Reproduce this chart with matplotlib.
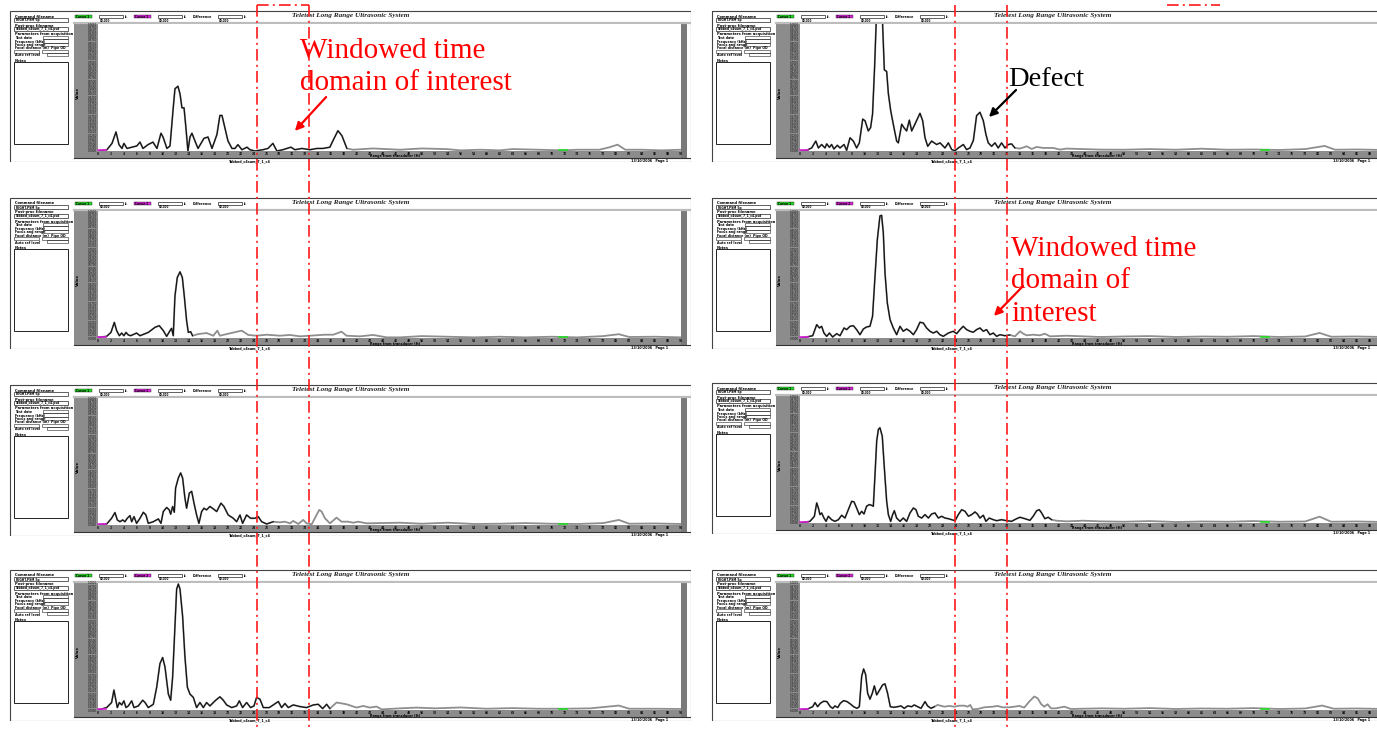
import numpy as np
import matplotlib.pyplot as plt
from matplotlib.patches import Rectangle

W, H = 1377, 731

# A-scans: distance along the pipe (tick units) and normalised amplitude
l1_x = [0.08, 0.69, 1.08, 1.39, 1.62, 1.85, 2.0, 2.24, 2.62, 3.0, 3.24, 3.47, 3.86, 4.24, 4.55, 4.86, 5.02,
        5.32, 5.56, 5.79, 5.94, 6.17, 6.33, 6.48, 6.64, 6.79, 6.94, 7.1, 7.25, 7.48, 7.72, 8.18, 8.49, 8.8,
        9.18, 9.41, 9.57, 9.8, 10.03, 10.34, 10.57, 10.8, 11.11, 11.5, 11.73, 12.11, 12.73, 13.12, 13.5,
        13.81, 14.27, 14.89, 15.2, 15.74, 16.36, 16.9, 17.36, 17.9, 18.13, 18.52, 18.83, 19.21, 19.68,
        21.22, 23.3, 25.0, 26.9, 28.0, 29.5, 31.0, 32.0, 34.0, 35.9, 37.0, 38.7, 39.5, 40.1, 40.7, 42.0,
        43.5, 45.0]
l1_y = [0.0, 0.01, 0.06, 0.15, 0.05, 0.02, 0.06, 0.02, 0.03, 0.04, 0.07, 0.02, 0.05, 0.07, 0.02, 0.14, 0.11,
        0.02, 0.04, 0.32, 0.49, 0.51, 0.45, 0.34, 0.34, 0.18, 0.0, 0.11, 0.14, 0.08, 0.02, 0.10, 0.11, 0.02,
        0.13, 0.28, 0.28, 0.18, 0.08, 0.02, 0.02, 0.05, 0.01, 0.03, 0.01, 0.0, 0.01, 0.02, 0.06,
        0.0, 0.01, 0.03, 0.01, 0.02, 0.01, 0.02, 0.02, 0.03, 0.08, 0.16, 0.12, 0.02, 0.01,
        0.02, 0.01, 0.02, 0.015, 0.005, 0.01, 0.005, 0.015, 0.01, 0.005, 0.01, 0.01, 0.03, 0.05, 0.01, 0.01,
        0.005, 0.01]

l2_x = [0.03, 0.67, 1.0, 1.26, 1.44, 1.65, 1.83, 2.0, 2.16, 2.34, 2.52, 2.98, 3.24, 3.88, 4.4, 4.73, 5.04,
        5.3, 5.56, 5.68, 5.81, 5.94, 6.12, 6.33, 6.51, 6.66, 6.84, 6.97, 7.15, 7.3, 7.74, 8.38, 8.9, 9.21,
        9.41, 10.19, 11.09, 11.6, 12.24, 13.02, 14.04, 14.81, 15.59, 16.36, 17.52, 18.16, 18.8, 19.18,
        20.22, 21.24, 22.28, 23.3, 25.0, 27.0, 29.0, 31.0, 33.0, 35.0, 37.0, 39.0, 40.2, 41.0, 43.0, 45.0]
l2_y = [0.005, 0.013, 0.044, 0.123, 0.058, 0.018, 0.039, 0.018, 0.044, 0.024, 0.018, 0.039, 0.018, 0.044,
        0.084, 0.097, 0.058, 0.013, 0.058, 0.076, 0.018, 0.33, 0.476, 0.521, 0.476, 0.33, 0.136, 0.044,
        0.05, 0.018, 0.031, 0.039, 0.018, 0.058, 0.018, 0.037, 0.058, 0.024, 0.018, 0.026, 0.018, 0.024,
        0.013, 0.018, 0.026, 0.026, 0.05, 0.018, 0.013, 0.024, 0.005, 0.005, 0.015, 0.01, 0.005, 0.01,
        0.005, 0.01, 0.005, 0.015, 0.03, 0.008, 0.01, 0.005]

l3_x = [0.03, 0.67, 1.05, 1.31, 1.49, 1.7, 1.9, 2.08, 2.26, 2.47, 2.6, 2.78, 2.98, 3.24, 3.5, 3.7, 3.88,
        4.27, 4.66, 4.86, 5.04, 5.3, 5.5, 5.61, 5.76, 5.89, 5.99, 6.2, 6.38, 6.53, 6.71, 6.84, 7.05, 7.23,
        7.41, 7.61, 7.79, 8.0, 8.18, 8.38, 8.64, 8.9, 9.16, 9.49, 9.72, 10.05, 10.44, 10.7, 10.96, 11.16,
        11.47, 11.78, 12.12, 12.37, 12.63, 13.02, 13.53, 14.04, 14.43, 14.81, 15.07, 15.46, 15.84, 16.1,
        16.49, 16.87, 17.08, 17.26, 17.52, 17.9, 18.41, 18.8, 19.31, 19.7, 20.09, 20.73, 23.3, 25.0, 27.0,
        29.0, 31.0, 33.0, 35.0, 37.0, 39.0, 40.2, 41.0, 43.0, 45.0]
l3_y = [0.0, 0.008, 0.053, 0.098, 0.04, 0.026, 0.04, 0.026, 0.053, 0.074, 0.026, 0.066, 0.013, 0.053, 0.1,
        0.079, 0.013, 0.026, 0.048, 0.013, 0.106, 0.138, 0.119, 0.085, 0.146, 0.1, 0.291, 0.37, 0.41,
        0.37, 0.212, 0.132, 0.251, 0.265, 0.172, 0.079, 0.013, 0.106, 0.132, 0.119, 0.146, 0.127, 0.106,
        0.172, 0.146, 0.079, 0.053, 0.026, 0.079, 0.013, 0.079, 0.053, 0.053, 0.066, 0.026, 0.008, 0.026,
        0.021, 0.026, 0.013, 0.032, 0.008, 0.04, 0.013, 0.005, 0.079, 0.119, 0.106, 0.053, 0.013, 0.058,
        0.026, 0.026, 0.018, 0.026, 0.013, 0.018, 0.01, 0.018, 0.008, 0.01, 0.015, 0.01, 0.008, 0.015,
        0.04, 0.01, 0.012, 0.008]

l4_x = [0.0, 0.67, 1.05, 1.23, 1.39, 1.49, 1.65, 1.83, 2.0, 2.16, 2.34, 2.6, 2.78, 3.11, 3.45, 3.63, 3.88,
        4.27, 4.53, 4.78, 4.99, 5.17, 5.43, 5.61, 5.76, 5.94, 6.07, 6.2, 6.33, 6.53, 6.71, 6.9, 7.1, 7.36,
        7.61, 7.87, 8.13, 8.38, 8.64, 9.03, 9.41, 9.67, 9.93, 10.32, 10.7, 10.91, 11.16, 11.47, 11.78,
        12.04, 12.24, 12.5, 12.76, 13.22, 13.53, 13.92, 14.17, 14.43, 14.69, 15.07, 15.59, 16.1, 16.62,
        17.0, 17.34, 17.65, 17.9, 18.41, 19.19, 19.96, 20.47, 20.99, 21.5, 21.89, 23.3, 24.59, 26.0, 28.0,
        30.0, 32.0, 34.0, 36.0, 38.0, 40.2, 41.0, 43.0, 45.0]
l4_y = [0.0, 0.019, 0.059, 0.157, 0.072, 0.019, 0.059, 0.04, 0.072, 0.019, 0.032, 0.072, 0.019, 0.032,
        0.077, 0.059, 0.019, 0.045, 0.179, 0.365, 0.413, 0.339, 0.125, 0.077, 0.259, 0.659, 0.952, 0.992,
        0.952, 0.739, 0.419, 0.179, 0.125, 0.099, 0.019, 0.059, 0.019, 0.059, 0.032, 0.072, 0.104, 0.077,
        0.04, 0.019, 0.032, 0.072, 0.019, 0.059, 0.019, 0.032, 0.099, 0.085, 0.019, 0.019, 0.04, 0.067,
        0.019, 0.051, 0.019, 0.04, 0.027, 0.019, 0.04, 0.045, 0.011, 0.045, 0.011, 0.059, 0.045, 0.019,
        0.032, 0.019, 0.027, 0.005, 0.013, 0.019, 0.013, 0.02, 0.01, 0.015, 0.01, 0.01, 0.013, 0.035,
        0.01, 0.01, 0.008]

r1_x = [0.0, 0.5, 0.9, 1.22, 1.42, 1.67, 1.93, 2.06, 2.27, 2.44, 2.62, 2.88, 3.09, 3.4, 3.6, 3.86, 4.12,
        4.37, 4.58, 4.84, 5.02, 5.27, 5.45, 5.6, 5.76, 5.89, 5.97, 6.3, 6.38, 6.51, 6.69, 6.82, 7.0, 7.2,
        7.46, 7.59, 7.85, 8.02, 8.23, 8.44, 8.62, 8.87, 9.26, 9.47, 9.65, 9.86, 10.16, 10.55, 10.81,
        11.19, 11.45, 11.71, 11.97, 12.22, 12.61, 12.86, 13.12, 13.38, 13.63, 13.89, 14.15, 14.35, 14.53,
        14.79, 15.05, 15.3, 15.56, 15.82, 16.08, 16.33, 16.59, 16.98, 17.5, 17.88, 18.27, 18.78, 19.55,
        20.07, 20.58, 23.15, 25.0, 27.0, 29.0, 31.0, 33.0, 35.0, 37.0, 39.0, 40.5, 41.3, 43.0, 45.0]
r1_y = [0.0, 0.005, 0.024, 0.078, 0.024, 0.051, 0.024, 0.056, 0.029, 0.051, 0.016, 0.045, 0.024, 0.051,
        0.005, 0.104, 0.078, 0.024, 0.064, 0.251, 0.238, 0.158, 0.184, 0.291, 0.666, 1.04, 1.3, 1.3,
        0.987, 0.639, 0.626, 0.452, 0.318, 0.211, 0.078, 0.064, 0.211, 0.184, 0.158, 0.243, 0.158, 0.211,
        0.297, 0.238, 0.104, 0.037, 0.078, 0.051, 0.064, 0.024, 0.064, 0.011, 0.003, 0.024, 0.051, 0.011,
        0.024, 0.083, 0.278, 0.305, 0.238, 0.131, 0.064, 0.037, 0.064, 0.024, 0.064, 0.024, 0.051, 0.056,
        0.024, 0.019, 0.037, 0.016, 0.032, 0.024, 0.024, 0.011, 0.019, 0.011, 0.01, 0.015, 0.01, 0.018,
        0.01, 0.012, 0.008, 0.015, 0.04, 0.01, 0.012, 0.008]

r2_x = [0.0, 0.5, 0.98, 1.29, 1.5, 1.67, 1.85, 2.06, 2.27, 2.52, 2.83, 3.09, 3.4, 3.6, 3.86, 4.12, 4.37,
        4.63, 4.89, 5.14, 5.4, 5.6, 5.79, 5.97, 6.17, 6.3, 6.43, 6.56, 6.74, 6.95, 7.2, 7.46, 7.72, 7.97,
        8.23, 8.49, 8.75, 9.0, 9.26, 9.52, 9.77, 10.03, 10.29, 10.55, 10.8, 11.06, 11.45, 11.83, 12.09,
        12.35, 12.6, 12.86, 13.12, 13.37, 13.63, 13.89, 14.15, 14.4, 14.66, 14.92, 15.18, 15.43, 15.82,
        16.2, 16.59, 16.98, 17.23, 17.49, 18.0, 18.52, 18.9, 19.29, 20.58, 21.86, 23.15, 25.0, 27.0, 29.0,
        31.0, 33.0, 35.0, 37.0, 39.0, 40.1, 41.0, 43.0, 45.0]
r2_y = [0.0, 0.008, 0.018, 0.105, 0.079, 0.092, 0.039, 0.013, 0.039, 0.008, 0.034, 0.018, 0.079, 0.066,
        0.092, 0.097, 0.066, 0.026, 0.071, 0.087, 0.092, 0.171, 0.487, 0.776, 0.961, 0.966, 0.829, 0.513,
        0.276, 0.145, 0.079, 0.026, 0.092, 0.053, 0.071, 0.053, 0.026, 0.066, 0.124, 0.118, 0.079, 0.053,
        0.039, 0.053, 0.026, 0.013, 0.039, 0.053, 0.034, 0.066, 0.092, 0.066, 0.053, 0.045, 0.066, 0.079,
        0.053, 0.066, 0.026, 0.039, 0.013, 0.026, 0.018, 0.024, 0.013, 0.053, 0.034, 0.021, 0.026, 0.021,
        0.034, 0.013, 0.018, 0.013, 0.008, 0.012, 0.015, 0.008, 0.012, 0.01, 0.015, 0.008, 0.012, 0.04,
        0.01, 0.012, 0.008]

r3_x = [0.0, 0.77, 1.11, 1.29, 1.42, 1.54, 1.67, 1.85, 2.01, 2.19, 2.44, 2.7, 2.96, 3.22, 3.47, 3.73, 3.99,
        4.17, 4.37, 4.58, 4.76, 4.94, 5.14, 5.35, 5.53, 5.66, 5.79, 5.92, 6.05, 6.17, 6.35, 6.51, 6.69,
        6.82, 7.0, 7.15, 7.28, 7.46, 7.72, 7.97, 8.23, 8.49, 8.75, 8.95, 9.13, 9.39, 9.65, 9.91, 10.16,
        10.42, 10.68, 10.93, 11.19, 11.45, 11.71, 11.97, 12.22, 12.48, 12.74, 13.0, 13.25, 13.51, 13.69,
        13.89, 14.15, 14.35, 14.61, 14.92, 15.18, 15.56, 15.95, 16.33, 16.72, 16.98, 17.36, 17.75, 18.0,
        18.27, 18.47, 18.65, 18.9, 19.16, 19.42, 19.8, 20.58, 21.86, 23.15, 25.0, 27.0, 29.0, 31.0, 33.0,
        35.0, 37.0, 39.0, 40.1, 41.0, 43.0, 45.0]
r3_y = [0.0, 0.013, 0.053, 0.158, 0.118, 0.066, 0.079, 0.039, 0.013, 0.053, 0.026, 0.013, 0.026, 0.061,
        0.039, 0.105, 0.171, 0.166, 0.118, 0.066, 0.092, 0.071, 0.132, 0.145, 0.139, 0.132, 0.382, 0.645,
        0.737, 0.75, 0.684, 0.434, 0.171, 0.066, 0.013, 0.066, 0.097, 0.039, 0.013, 0.039, 0.013, 0.079,
        0.118, 0.105, 0.053, 0.039, 0.066, 0.039, 0.071, 0.079, 0.039, 0.053, 0.039, 0.034, 0.026, 0.018,
        0.066, 0.105, 0.092, 0.053, 0.066, 0.087, 0.071, 0.039, 0.061, 0.013, 0.039, 0.026, 0.018, 0.026,
        0.018, 0.013, 0.034, 0.045, 0.034, 0.021, 0.053, 0.097, 0.105, 0.079, 0.034, 0.045, 0.026, 0.018,
        0.013, 0.018, 0.013, 0.01, 0.015, 0.008, 0.012, 0.01, 0.015, 0.01, 0.012, 0.05, 0.01, 0.012, 0.008]

r4_x = [0.0, 0.59, 0.98, 1.16, 1.36, 1.57, 1.83, 2.08, 2.34, 2.52, 2.7, 2.91, 3.11, 3.37, 3.63, 3.88, 4.14,
        4.4, 4.58, 4.76, 4.91, 5.07, 5.22, 5.4, 5.58, 5.74, 5.92, 6.12, 6.38, 6.56, 6.76, 6.97, 7.23, 7.54,
        7.79, 8.05, 8.31, 8.62, 8.82, 9.08, 9.34, 9.65, 9.85, 10.11, 10.37, 10.62, 11.14, 11.52, 11.91,
        12.3, 12.68, 12.94, 13.14, 13.32, 13.71, 14.22, 14.86, 15.25, 15.64, 16.15, 16.53, 16.92, 17.31,
        17.69, 18.08, 18.34, 18.6, 18.85, 19.11, 19.37, 19.75, 20.4, 20.91, 23.22, 25.0, 27.0, 29.0, 31.0,
        33.0, 35.0, 37.0, 39.0, 40.3, 41.2, 43.0, 45.0]
r4_y = [0.0, 0.008, 0.026, 0.058, 0.026, 0.053, 0.069, 0.066, 0.026, 0.013, 0.032, 0.019, 0.053, 0.074,
        0.066, 0.048, 0.026, 0.013, 0.026, 0.265, 0.323, 0.278, 0.132, 0.085, 0.132, 0.19, 0.119, 0.153,
        0.198, 0.206, 0.132, 0.026, 0.021, 0.026, 0.032, 0.013, 0.032, 0.026, 0.04, 0.026, 0.013, 0.066,
        0.032, 0.013, 0.026, 0.04, 0.026, 0.032, 0.026, 0.034, 0.034, 0.026, 0.04, 0.005, 0.008, 0.021,
        0.026, 0.032, 0.021, 0.021, 0.026, 0.032, 0.019, 0.066, 0.106, 0.093, 0.048, 0.026, 0.045, 0.013,
        0.013, 0.026, 0.008, 0.013, 0.01, 0.015, 0.008, 0.012, 0.01, 0.015, 0.008, 0.012, 0.035, 0.01,
        0.012, 0.008]

scans = [(l1_x, l1_y), (l2_x, l2_y), (l3_x, l3_y), (l4_x, l4_y),
         (r1_x, r1_y), (r2_x, r2_y), (r3_x, r3_y), (r4_x, r4_y)]
# the dark (near-field) trace stops at these distances, grey trace afterwards
black_until = [19.5, 7.4, 14.0, 18.0, 16.7, 16.3, 19.5, 10.5]

y_ticks = np.linspace(0, 1, 41)
x_ticks = np.arange(0, 46)

left_frames = [(9, 10), (9, 197), (9, 384), (9, 569)]
right_frames = [(711, 10), (711, 197), (711, 382), (711, 569)]

GREY = '#8c8c8c'


def px_axes(fig, x, y, w, h, z=1):
    ax = fig.add_axes([x / W, 1 - (y + h) / H, w / W, h / H])
    ax.set_zorder(z)
    return ax


def tiny(ax, x, y, s, size=2.6, **kw):
    ax.text(x, y, s, fontsize=size, va='top', ha=kw.pop('ha', 'left'),
            fontweight=kw.pop('fontweight', 'bold'), **kw)


def draw_panel(fig, fx, fy, xs, ys, bend):
    deco = px_axes(fig, fx, fy, 682, 152, 1)
    deco.set_xlim(0, 682)
    deco.set_ylim(152, 0)
    deco.axis('off')
    deco.add_patch(Rectangle((0.5, 0.5), 681, 151, fill=False, ec='#444444', lw=0.8))

    # left info column
    tiny(deco, 6, 4.5, 'Command filename')
    deco.add_patch(Rectangle((5, 8), 54, 4, fill=False, ec='#222', lw=0.5))
    tiny(deco, 7, 8.5, 'RIGHT.PSM 5p', size=2.2)
    tiny(deco, 6, 13.5, 'Post-proc filename')
    deco.add_patch(Rectangle((5, 16.5), 54, 4, fill=False, ec='#222', lw=0.5))
    tiny(deco, 7, 17, 'Tabbed_c4sum_7_1_c4.psd', size=2.2)
    tiny(deco, 6, 22.5, 'Parameters from acquisition')
    for k, lab in enumerate(['Test date', 'Frequency (kHz)', 'Focus ang range']):
        tiny(deco, 6, 26 + 3.6 * k, lab, size=2.3)
        deco.add_patch(Rectangle((34, 25.8 + 3.6 * k), 25, 3.2, fill=False, ec='#222', lw=0.4))
    tiny(deco, 6, 36.5, 'Focal distance (m)  Pipe OD', size=2.3)
    deco.add_patch(Rectangle((5, 39.5), 25, 3.2, fill=False, ec='#222', lw=0.4))
    deco.add_patch(Rectangle((33, 39.5), 26, 3.2, fill=False, ec='#222', lw=0.4))
    tiny(deco, 6, 43.5, 'Auto ref level', size=2.3)
    deco.add_patch(Rectangle((38, 43.2), 21, 3.2, fill=False, ec='#222', lw=0.4))
    tiny(deco, 6, 49, 'Notes')
    deco.add_patch(Rectangle((5, 51.5), 54, 82.5, fill=False, ec='#222', lw=0.7))

    # header strip
    deco.add_patch(Rectangle((66, 4.5), 17, 3.5, fc='#22dd22', ec='#222', lw=0.3))
    tiny(deco, 67, 4.8, 'Cursor 1', size=2.0)
    deco.add_patch(Rectangle((125, 4.5), 17, 3.5, fc='#dd22dd', ec='#222', lw=0.3))
    tiny(deco, 126, 4.8, 'Cursor 2', size=2.0)
    tiny(deco, 184, 5, 'Difference', size=2.3)
    for bx in (90, 149, 209):
        deco.add_patch(Rectangle((bx, 4.5), 24, 3.2, fill=False, ec='#222', lw=0.5))
        tiny(deco, bx + 1, 8.5, '00.000', size=2.0)
        tiny(deco, bx + 26, 4.6, 'ft.', size=2.0)
    deco.text(342, 3, 'Teletest Long Range Ultrasonic System', fontsize=5.2, ha='center', va='top',
              family='Liberation Serif', style='italic', fontweight='bold', color='#222')
    deco.plot([65, 682], [12.8, 12.8], color='#bdbdbd', lw=1.6)

    # grey bands around the plot
    deco.add_patch(Rectangle((65, 14), 24, 134, fc=GREY, ec='none'))
    deco.add_patch(Rectangle((65, 141), 613, 7, fc=GREY, ec='none'))
    deco.add_patch(Rectangle((672, 14), 6, 134, fc='#7a7a7a', ec='none'))
    deco.plot([65, 682], [148.3, 148.3], color='#333', lw=0.8)
    deco.text(69, 83, 'Value', fontsize=2.8, rotation=90, ha='center', va='center', fontweight='bold')
    tiny(deco, 361, 144.5, 'Range from transducer (ft)', size=2.3)
    tiny(deco, 241, 149.3, 'Tabbed_c4sum_7_1_c4', size=2.4, ha='center')
    tiny(deco, 622, 149.3, '13/10/2006   Page 1', size=2.4)

    ax = px_axes(fig, fx + 89, fy + 14, 583, 127, 2)
    ax.set_xlim(0, 45)
    ax.set_ylim(0, 1)
    for s in ax.spines.values():
        s.set_visible(False)
    ax.plot(xs, ys, color='#8e8e8e', lw=1.3, solid_joinstyle='round')
    xs_a = np.array(xs)
    m = xs_a <= bend
    ax.plot(xs_a[m], np.array(ys)[m], color='#111111', lw=0.85)
    ax.plot([0, 0.6], [0.004, 0.004], color='#dd22dd', lw=1.2, clip_on=False)
    ax.plot([35.6, 36.2], [0.004, 0.004], color='#22dd22', lw=1.2, clip_on=False)
    ax.set_yticks(y_ticks)
    ax.set_yticklabels([f'{v:.4f}' for v in y_ticks], fontsize=2.0)
    ax.set_xticks(x_ticks)
    ax.set_xticklabels([str(v * 2) for v in x_ticks], fontsize=2.2, fontweight='bold')
    ax.tick_params(length=0, pad=0.8, colors='#111')
    return ax


fig = plt.figure(figsize=(W / 100, H / 100), dpi=100)
fig.patch.set_facecolor('white')

frames = left_frames + right_frames
for (fx, fy), (xs, ys), bend in zip(frames, scans, black_until):
    draw_panel(fig, fx, fy, xs, ys, bend)

# overlay: windows and annotations in page coordinates
over = fig.add_axes([0, 0, 1, 1])
over.set_zorder(10)
over.set_xlim(0, W)
over.set_ylim(H, 0)
over.axis('off')
over.patch.set_alpha(0)

dash = (0, (7, 2.5, 1.2, 2.5))
for xv in (257, 309, 955, 1007):
    over.plot([xv, xv], [5, H], color='#ff1a1a', lw=1.2, linestyle=dash)
over.plot([257, 309], [5, 5], color='#ff1a1a', lw=1.2, linestyle=dash)
over.plot([1167, 1220], [5, 5], color='#ff1a1a', lw=1.2, linestyle=dash)

serif = 'Liberation Serif'
over.text(300, 38, 'Windowed time\ndomain of interest', color='#ff0000', fontsize=21,
          family=serif, va='top', ha='left', linespacing=1.32)
over.annotate('', xy=(293, 133), xytext=(328, 95),
              arrowprops=dict(arrowstyle='-|>', color='#ff0000', lw=1.6, mutation_scale=12))

over.text(1008, 67, 'Defect', color='black', fontsize=20.5, family=serif, va='top', ha='left')
over.annotate('', xy=(987, 119), xytext=(1018, 88),
              arrowprops=dict(arrowstyle='-|>', color='black', lw=1.6, mutation_scale=12))

over.text(1011, 236, 'Windowed time\ndomain of\ninterest', color='#ff0000', fontsize=21,
          family=serif, va='top', ha='left', linespacing=1.32)
over.annotate('', xy=(992, 318), xytext=(1025, 284),
              arrowprops=dict(arrowstyle='-|>', color='#ff0000', lw=1.6, mutation_scale=12))

fig.savefig('out.png', dpi=100)
